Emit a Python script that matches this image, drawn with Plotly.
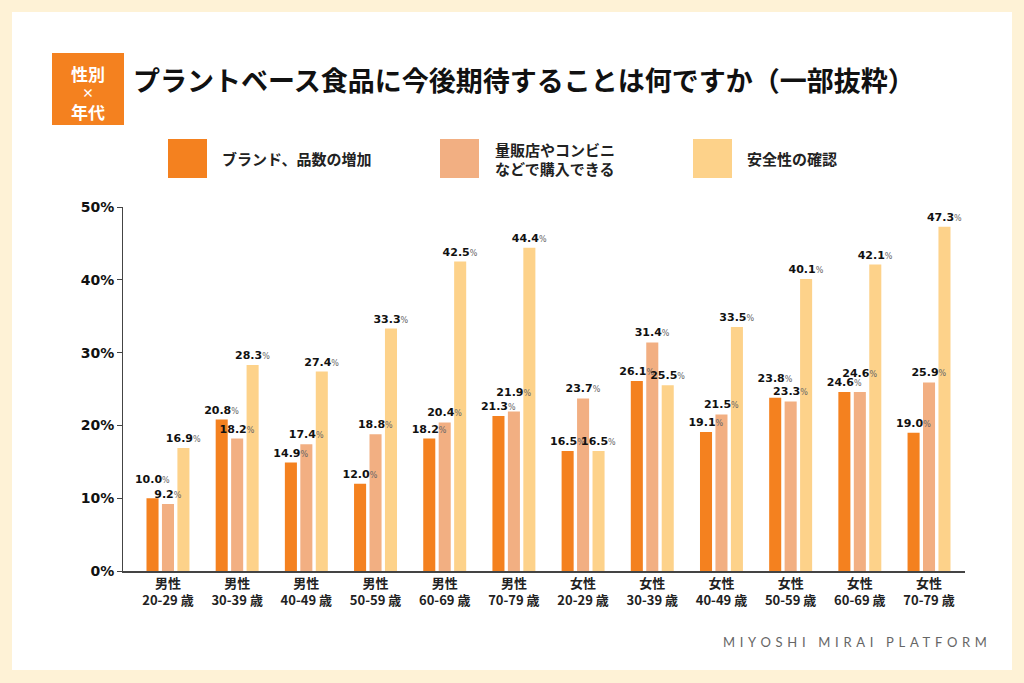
import plotly.graph_objects as go

# ---- data ----
genders = ["男性"] * 6 + ["女性"] * 6
ages = ["20-29 歳", "30-39 歳", "40-49 歳", "50-59 歳", "60-69 歳", "70-79 歳"] * 2
categories = [f"{g}<br>{a}" for g, a in zip(genders, ages)]

series_names = ["ブランド、品数の増加", "量販店やコンビニ<br>などで購入できる", "安全性の確認"]
brand_increase = [10.0, 20.8, 14.9, 12.0, 18.2, 21.3, 16.5, 26.1, 19.1, 23.8, 24.6, 19.0]
store_purchase = [9.2, 18.2, 17.4, 18.8, 20.4, 21.9, 23.7, 31.4, 21.5, 23.3, 24.6, 25.9]
safety_check = [16.9, 28.3, 27.4, 33.3, 42.5, 44.4, 16.5, 25.5, 33.5, 40.1, 42.1, 47.3]
y_tickvals = [0, 10, 20, 30, 40, 50]
y_ticktext = ["0%", "10%", "20%", "30%", "40%", "50%"]

colors = ["#F4811F", "#F2AF82", "#FDD28A"]

W, H = 1024, 683
L, R, T, B = 123, 965, 207, 571


def px(x):
    return (x - L) / (R - L)


def py(y):
    return (B - y) / (B - T)


JP = "Noto Sans CJK JP"

# value-label templates; when two neighbouring labels nearly coincide, lift the higher one a little
base_tpl = "<span style='font-size:11px'><b>%{y:.1f}</b></span><span style='color:#666'>%</span>"
lifted_tpl = base_tpl + "<br>&nbsp;"
tpl_brand, tpl_store = [], []
for o, p in zip(brand_increase, store_purchase):
    if abs(o - p) < 1.0:
        if p >= o:
            tpl_brand.append(base_tpl); tpl_store.append(lifted_tpl)
        else:
            tpl_brand.append(lifted_tpl); tpl_store.append(base_tpl)
    else:
        tpl_brand.append(base_tpl); tpl_store.append(base_tpl)
tpl_safety = [base_tpl] * len(safety_check)

fig = go.Figure()
all_series = [brand_increase, store_purchase, safety_check]
all_tpls = [tpl_brand, tpl_store, tpl_safety]
for i, (name, vals, col) in enumerate(zip(series_names, all_series, colors)):
    fig.add_trace(go.Bar(
        x=categories, y=vals, name=name, offsetgroup=str(i),
        marker=dict(color=col, line=dict(width=0)), showlegend=False, hoverinfo="skip",
    ))
for i, (name, vals, tpl) in enumerate(zip(series_names, all_series, all_tpls)):
    fig.add_trace(go.Bar(
        x=categories, y=vals, name=name, offsetgroup=str(i),
        marker=dict(color="rgba(0,0,0,0)", line=dict(width=0)),
        texttemplate=tpl,
        textposition="outside", textangle=0, constraintext="none", cliponaxis=False,
        textfont=dict(family="DejaVu Sans", size=8, color="#111"),
        showlegend=False, hoverinfo="skip",
    ))

shapes = [
    dict(type="rect", xref="paper", yref="paper", x0=px(12), x1=px(1012), y0=py(670), y1=py(12),
         fillcolor="white", line=dict(width=0), layer="below"),
    dict(type="rect", xref="paper", yref="paper", x0=px(52), x1=px(124), y0=py(125), y1=py(53),
         fillcolor="#F4811F", line=dict(width=0), layer="above"),
]
annotations = []

for txt, yy, sz in [("性別", 73, 17), ("×", 92, 12), ("年代", 111, 17)]:
    annotations.append(dict(text=f"<b>{txt}</b>", x=px(88), y=py(yy), xref="paper", yref="paper",
                            xanchor="center", yanchor="middle", showarrow=False,
                            font=dict(family=JP, size=sz, color="white")))
annotations.append(dict(text="<b>プラントベース食品に今後期待することは何ですか（一部抜粋）</b>",
                        x=px(131), y=py(80), xref="paper", yref="paper", xanchor="left", yanchor="middle",
                        showarrow=False, font=dict(family=JP, size=27, color="#111")))

legend_items = [
    (168, 220, ["ブランド、品数の増加"]),
    (440, 493, ["量販店やコンビニ", "などで購入できる"]),
    (693, 745, ["安全性の確認"]),
]
for (sx, tx, lines), col in zip(legend_items, colors):
    shapes.append(dict(type="rect", xref="paper", yref="paper", x0=px(sx), x1=px(sx + 39),
                       y0=py(178), y1=py(139), fillcolor=col, line=dict(width=0)))
    ys = [158] if len(lines) == 1 else [150, 169]
    for ln, yy in zip(lines, ys):
        annotations.append(dict(text=f"<b>{ln}</b>", x=px(tx), y=py(yy), xref="paper", yref="paper",
                                xanchor="left", yanchor="middle", showarrow=False,
                                font=dict(family=JP, size=15, color="#222")))

annotations.append(dict(text="<span style='letter-spacing:4.7px'>MIYOSHI MIRAI PLATFORM</span>",
                        x=px(721), y=py(642), xref="paper", yref="paper", xanchor="left", yanchor="middle",
                        showarrow=False, font=dict(family="Lato", size=13, color="#666")))

fig.update_layout(
    width=W, height=H,
    margin=dict(l=L, r=W - R, t=T, b=H - B, pad=0),
    paper_bgcolor="#FEF2D6",
    plot_bgcolor="rgba(0,0,0,0)",
    barmode="group", bargap=0.33, bargroupgap=0.22,
    shapes=shapes, annotations=annotations,
    xaxis=dict(type="category", range=[-0.65, 11.52], showgrid=False, zeroline=False,
               showline=True, linecolor="#444", linewidth=1.5, ticks="",
               tickfont=dict(family=JP, size=13, color="#222"), tickprefix="<b>", ticksuffix="</b>"),
    yaxis=dict(range=[0, 50], tickvals=y_tickvals, ticktext=[f"<b>{t}</b>" for t in y_ticktext],
               showgrid=False, zeroline=False, showline=True, linecolor="#444", linewidth=1,
               ticks="outside", ticklen=5, tickcolor="#444", tickwidth=1,
               tickfont=dict(family="DejaVu Sans", size=14, color="#111")),
    font=dict(family=JP),
)

fig.write_html("out.html", config={"displayModeBar": False},
               post_script="document.body.style.margin='0';document.body.style.padding='0';")
